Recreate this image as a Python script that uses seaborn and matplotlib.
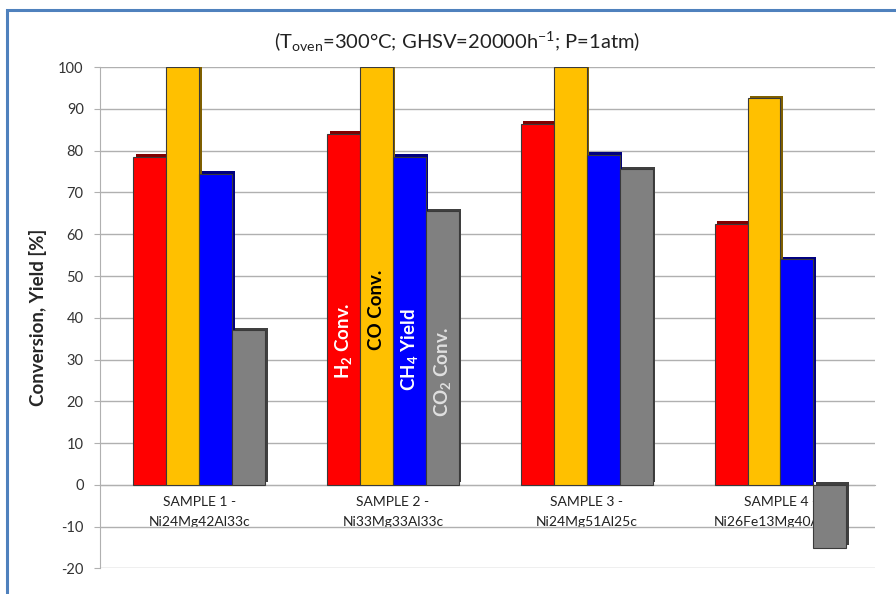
import pandas as pd
import numpy as np
import seaborn as sns
import matplotlib.pyplot as plt
import matplotlib.patheffects as pe
from matplotlib.patches import Rectangle

# values
samples = ['SAMPLE 1 -\nNi24Mg42Al33c', 'SAMPLE 2 -\nNi33Mg33Al33c',
           'SAMPLE 3 -\nNi24Mg51Al25c', 'SAMPLE 4 -\nNi26Fe13Mg40Al20c']
series = ['H2 Conv.', 'CO Conv.', 'CH4 Yield', 'CO2 Conv.']
h2_conv = [78.5, 84, 86.5, 62.5]
co_conv = [100, 100, 100, 92.5]
ch4_yield = [74.5, 78.5, 79, 54]
co2_conv = [37, 65.5, 75.5, -15]
colors = ['#ff0000', '#ffc000', '#0000ff', '#808080']

# in-bar labels (drawn on the sample 2 group)
bar_text = ['H$\\mathregular{_2}$ Conv.', 'CO Conv.', 'CH$\\mathregular{_4}$ Yield', 'CO$\\mathregular{_2}$ Conv.']
bar_text_col = ['white', 'black', 'white', '#e0e0e0']
bar_text_y = [34.5, 42, 32.5, 27]

df = pd.DataFrame({'sample': np.repeat(samples, 4),
                   'series': series * 4,
                   'value': np.ravel(np.column_stack([h2_conv, co_conv, ch4_yield, co2_conv]))})

sns.set_style('white')
plt.rcParams['font.family'] = ['Lato', 'DejaVu Sans']
plt.rcParams['mathtext.default'] = 'regular'
plt.rcParams['axes.unicode_minus'] = False

fig = plt.figure(figsize=(8.96, 5.94), dpi=100)
ax = fig.add_axes([0.112, 0.043, 0.865, 0.844])

sns.barplot(data=df, x='sample', y='value', hue='series', hue_order=series,
            palette=colors, saturation=1, width=0.68, edgecolor='#3a3a3a', linewidth=0.8,
            legend=False, ax=ax, zorder=3)
for bar in ax.patches:
    bar.set_path_effects([pe.SimplePatchShadow(offset=(1.8, 1.8), alpha=1, rho=0.5),
                          pe.Normal()])

ax.set_ylim(-20, 100)
ax.set_xlim(-0.51, 3.49)
ax.set_yticks(range(-20, 101, 10))
ax.yaxis.grid(True, color='#b0b0b0', lw=1)
ax.set_axisbelow(True)
sns.despine(ax=ax, top=True, right=True)
ax.spines['left'].set_color('#b0b0b0')
ax.spines['bottom'].set_color('#b0b0b0')
ax.spines['bottom'].set_position(('data', 0))
ax.tick_params(axis='y', left=True, length=4, pad=8, color='#b0b0b0', labelsize=10.5, labelcolor='#333333')
ax.tick_params(axis='x', length=0, pad=8, labelsize=10, labelcolor='#222222')
for lab in ax.get_xticklabels():
    lab.set_linespacing(1.8)
ax.set_xlabel('')
ax.set_ylabel('Conversion, Yield [%]', fontsize=13.5, fontweight='bold', labelpad=8)

# labels inside the sample 2 bars
for i, cont in enumerate(ax.containers):
    b = cont[1]
    ax.text(b.get_x() + b.get_width() / 2, bar_text_y[i], bar_text[i], rotation=90,
            ha='center', va='center', color=bar_text_col[i], fontsize=13.5,
            fontweight='bold', zorder=5)

fig.text(0.51, 0.93, '(T$\\mathregular{_{oven}}$=300°C; GHSV=20000h$\\mathregular{^{-1}}$; P=1atm)',
         ha='center', va='center', fontsize=14.5, color='#222222')

fig.patches.append(Rectangle((0.0078, -0.2), 1.5, 1.183, transform=fig.transFigure,
                             fill=False, edgecolor='#4f81bd', lw=2.2))

fig.savefig('out.png', dpi=100)
